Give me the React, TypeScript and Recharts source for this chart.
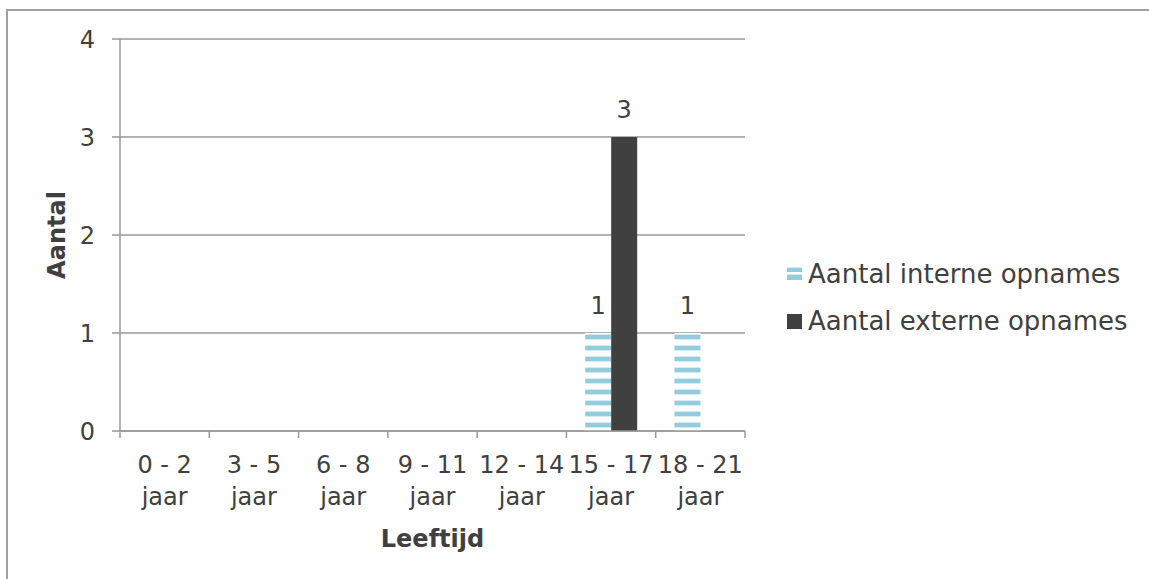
import { BarChart, Bar, XAxis, YAxis, CartesianGrid, LabelList, Label } from 'recharts';

const ageGroups = ['0 - 2', '3 - 5', '6 - 8', '9 - 11', '12 - 14', '15 - 17', '18 - 21'];
const unit = 'jaar';
const interne = [0, 0, 0, 0, 0, 1, 1];
const externe = [0, 0, 0, 0, 0, 3, 0];
const yTicks = [0, 1, 2, 3, 4];
const seriesNames = ['Aantal interne opnames', 'Aantal externe opnames'];

const data = ageGroups.map((g, i) => ({ group: g, interne: interne[i], externe: externe[i] }));

const W = 1149;
const H = 579;
const MARGIN = { top: 39, right: 404, bottom: 0, left: 0 };
const YAXIS_W = 120;
const XAXIS_H = 148;
const BAND = (W - MARGIN.left - MARGIN.right - YAXIS_W) / ageGroups.length;

const FONT = '"DejaVu Sans", sans-serif';
const TEXT = '#404040';
const GRID = '#999999';
const DARK = '#404040';
const AQUA = '#93cddd';

const XTick = (props: any) => {
  const { x, y, payload, index } = props;
  return (
    <g>
      <line x1={x - BAND / 2} x2={x - BAND / 2} y1={y} y2={y + 7} stroke={GRID} strokeWidth={1.5} />
      {index === ageGroups.length - 1 && (
        <line x1={x + BAND / 2} x2={x + BAND / 2} y1={y} y2={y + 7} stroke={GRID} strokeWidth={1.5} />
      )}
      <text x={x} y={y} textAnchor="middle" fill={TEXT} fontSize={24} fontFamily={FONT}>
        <tspan x={x} dy={42}>{payload.value}</tspan>
        <tspan x={x} dy={32}>{unit}</tspan>
      </text>
    </g>
  );
};

const ValueLabel = (props: any) => {
  const { x, y, width, value } = props;
  if (!value) return null;
  return (
    <text x={x + width / 2} y={y - 19} textAnchor="middle" fill={TEXT} fontSize={24} fontFamily={FONT}>
      {value}
    </text>
  );
};

const LegendBox = () => (
  <div
    style={{
      position: 'absolute',
      left: 787,
      top: 255,
      fontFamily: FONT,
      fontSize: 26,
      color: TEXT,
      lineHeight: '38px',
    }}
  >
    {seriesNames.map((name, i) => (
      <div key={name} style={{ display: 'flex', alignItems: 'center', height: 38, marginBottom: 9 }}>
        <svg width={15} height={15} style={{ marginRight: 6 }}>
          {i === 0 ? (
            <g>
              <rect x={0} y={0} width={15} height={1} fill="#d3ebf1" />
              <rect x={0} y={1} width={15} height={4} fill={AQUA} />
              <rect x={0} y={7} width={15} height={1} fill="#d3ebf1" />
              <rect x={0} y={8} width={15} height={5} fill={AQUA} />
            </g>
          ) : (
            <rect x={0} y={0} width={15} height={15} fill={DARK} />
          )}
        </svg>
        <span>{name}</span>
      </div>
    ))}
  </div>
);

export default function App() {
  return (
    <div style={{ position: 'fixed', left: 0, top: 0, width: W, height: H, overflow: 'hidden', background: '#fff' }}>
      <div
        style={{
          position: 'absolute',
          left: 6,
          top: 9,
          width: 2000,
          height: 2000,
          border: '2px solid #a0a0a0',
        }}
      />
      <div style={{ position: 'absolute', left: 0, top: 0 }}>
        <BarChart
          width={W}
          height={H}
          data={data}
          margin={MARGIN}
          barCategoryGap="21%"
          barGap={0}
        >
          <defs>
            <pattern id="stripes" patternUnits="userSpaceOnUse" width={10} height={11}>
              <rect x={0} y={0} width={10} height={11} fill="#ffffff" />
              <rect x={0} y={4} width={10} height={1} fill="#d3ebf1" />
              <rect x={0} y={5} width={10} height={4} fill={AQUA} />
              <rect x={0} y={9} width={10} height={1} fill="#d3ebf1" />
            </pattern>
          </defs>
          <CartesianGrid vertical={false} stroke={GRID} strokeWidth={1.5} />
          <XAxis
            dataKey="group"
            height={XAXIS_H}
            interval={0}
            tickLine={false}
            tickSize={0}
            tickMargin={0}
            axisLine={{ stroke: GRID, strokeWidth: 1.5 }}
            tick={<XTick />}
          >
            <Label
              content={(p: any) => (
                <text
                  x={p.viewBox.x + p.viewBox.width / 2}
                  y={p.viewBox.y + 116}
                  textAnchor="middle"
                  fill={TEXT}
                  fontSize={24}
                  fontWeight="bold"
                  fontFamily={FONT}
                >
                  Leeftijd
                </text>
              )}
            />
          </XAxis>
          <YAxis
            width={YAXIS_W}
            domain={[0, 4]}
            ticks={yTicks}
            interval={0}
            tickSize={8}
            tickMargin={17}
            tickLine={{ stroke: GRID, strokeWidth: 1.5 }}
            axisLine={{ stroke: GRID, strokeWidth: 1.5 }}
            tick={{ fill: TEXT, fontSize: 24, fontFamily: FONT }}
          >
            <Label
              content={(p: any) => {
                const cx = 57;
                const cy = p.viewBox.y + p.viewBox.height / 2;
                return (
                  <text
                    x={cx}
                    y={cy}
                    transform={`rotate(-90 ${cx} ${cy})`}
                    textAnchor="middle"
                    dominantBaseline="central"
                    fill={TEXT}
                    fontSize={24}
                    fontWeight="bold"
                    fontFamily={FONT}
                  >
                    Aantal
                  </text>
                );
              }}
            />
          </YAxis>
          <Bar dataKey="interne" name={seriesNames[0]} fill="url(#stripes)" isAnimationActive={false}>
            <LabelList dataKey="interne" content={<ValueLabel />} />
          </Bar>
          <Bar dataKey="externe" name={seriesNames[1]} fill={DARK} isAnimationActive={false}>
            <LabelList dataKey="externe" content={<ValueLabel />} />
          </Bar>
        </BarChart>
      </div>
      <LegendBox />
    </div>
  );
}
